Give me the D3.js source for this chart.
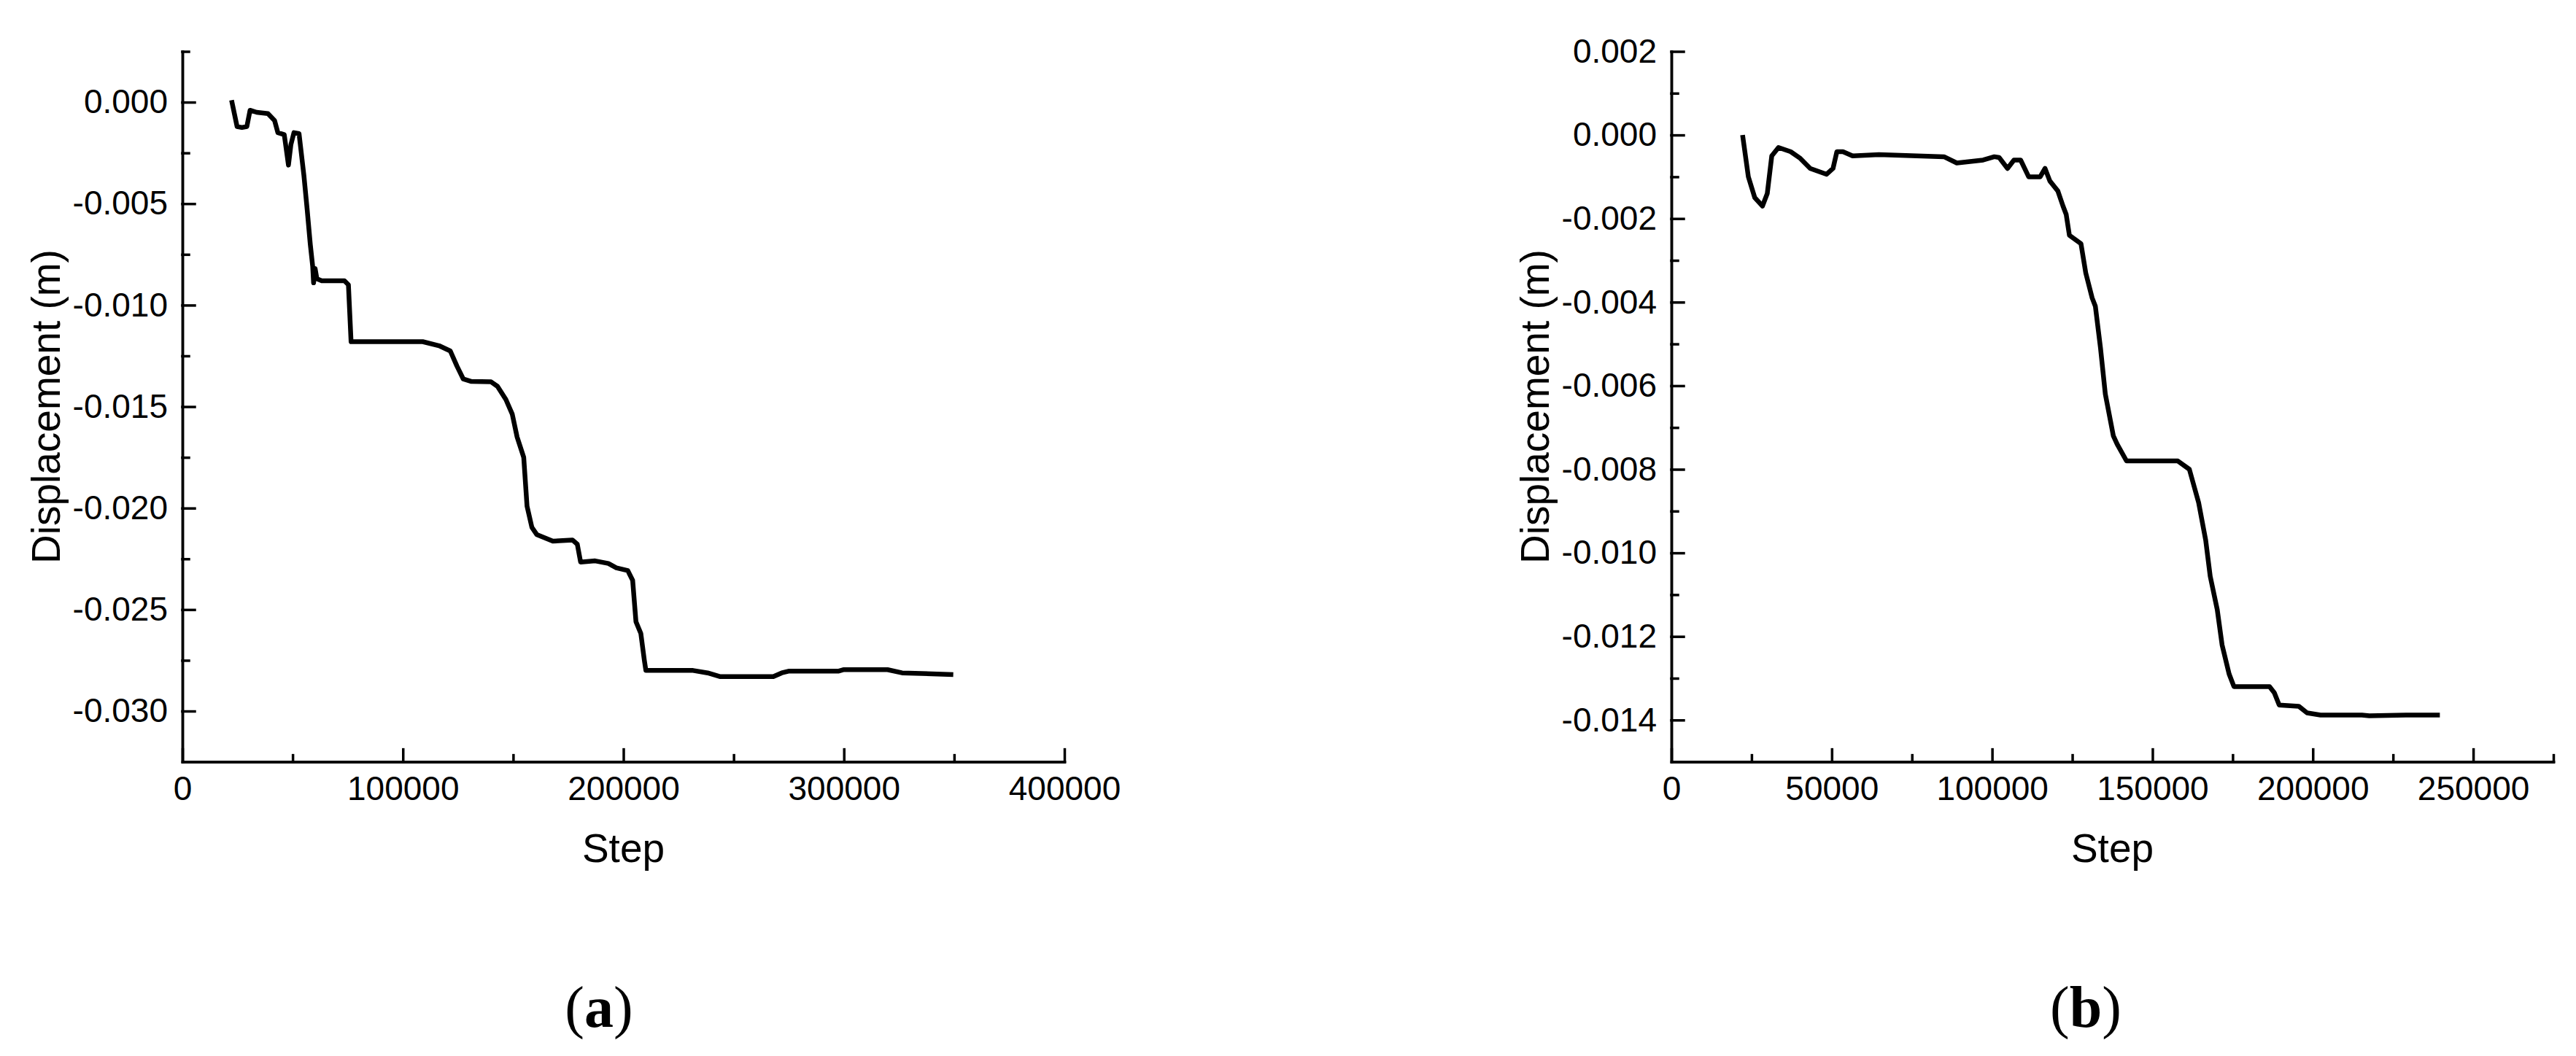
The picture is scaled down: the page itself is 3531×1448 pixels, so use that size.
<!DOCTYPE html>
<html>
<head>
<meta charset="utf-8">
<script src="https://cdn.jsdelivr.net/npm/d3@7"></script>
<style>
  html, body { margin: 0; padding: 0; background: #fff; }
  svg { display: block; }
  .axis path, .axis line { stroke: #000; stroke-width: 3.5; stroke-linecap: square; }
  .axis text { font-family: "Liberation Sans", Arial, sans-serif; font-size: 46px; fill: #000; }
  .title { font-family: "Liberation Sans", Arial, sans-serif; font-size: 55px; fill: #000; }
  .caption { font-family: "Liberation Serif", "Times New Roman", serif; font-size: 80px; fill: #000; }
</style>
</head>
<body>
<script>
// panel (a) data
var stepA = [22300, 24800, 27000, 29250, 30700, 33700, 38800, 41800, 43300, 46200,
  48100, 49200, 50600, 52900, 55100, 56600, 58000, 59100, 59500, 60200,
  61000, 63200, 73500, 75300, 76500, 86800, 109000, 116400, 121500, 124500,
  127400, 131100, 140000, 142900, 146700, 149600, 151800, 154800, 156300, 158500,
  160700, 168000, 176900, 179100, 180600, 187200, 193200, 196800, 202000, 204200,
  205700, 207900, 209500, 210200, 231600, 238200, 243700, 260300, 268000, 271800,
  275200, 297700, 300000, 319800, 326400, 349600];
var dispA = [0.0001, -0.0012, -0.00125, -0.0012, -0.0004, -0.0005, -0.00056, -0.0009, -0.0015, -0.0016,
  -0.0031, -0.0021, -0.0015, -0.00155, -0.0036, -0.0053, -0.0070, -0.0081, -0.0089, -0.0082,
  -0.0087, -0.0088, -0.0088, -0.0090, -0.0118, -0.0118, -0.0118, -0.0120, -0.01226, -0.0130,
  -0.01364, -0.01376, -0.01378, -0.0140, -0.01465, -0.01537, -0.0165, -0.0175, -0.0199, -0.02095,
  -0.0213, -0.02163, -0.02157, -0.02178, -0.02266, -0.0226, -0.02273, -0.02294, -0.02308, -0.02356,
  -0.0256, -0.02617, -0.0275, -0.0280, -0.0280, -0.02812, -0.0283, -0.0283, -0.0283, -0.02812,
  -0.02803, -0.02803, -0.02796, -0.02796, -0.02812, -0.0282];

// panel (b) data
var stepB = [22200, 24000, 26000, 28400, 29900, 31300, 33400, 37200, 40200, 43300,
  48400, 50400, 51600, 53500, 56500, 64700, 85000, 89000, 97200, 100700,
  102200, 104800, 106800, 108900, 111400, 115000, 116500, 118000, 120500, 122100,
  123100, 124100, 127700, 129200, 131200, 132200, 133800, 135300, 137800, 139000,
  141900, 157900, 161500, 164400, 166600, 168000, 170200, 171700, 173900, 175400,
  186500, 188000, 189500, 195600, 198200, 202400, 215300, 217600, 229000, 239600];
var dispB = [0.0000, -0.0010, -0.0015, -0.0017, -0.0014, -0.0005, -0.0003, -0.0004, -0.00056, -0.0008,
  -0.00094, -0.0008, -0.0004, -0.0004, -0.0005, -0.00047, -0.00052, -0.00067, -0.0006, -0.00052,
  -0.00054, -0.0008, -0.0006, -0.0006, -0.0010, -0.0010, -0.0008, -0.0011, -0.00134, -0.0017,
  -0.0019, -0.0024, -0.0026, -0.0033, -0.0039, -0.0041, -0.0051, -0.0062, -0.0072, -0.0074,
  -0.0078, -0.0078, -0.0080, -0.0088, -0.0097, -0.01056, -0.01136, -0.0122, -0.0129, -0.0132,
  -0.0132, -0.01335, -0.01364, -0.01367, -0.01383, -0.01388, -0.01388, -0.0139, -0.01388, -0.01388];

// axes
var xDomainA = [0, 400000], yDomainA = [-0.0325, 0.0025];
var xTicksA = [0, 100000, 200000, 300000, 400000];
var xMinorA = [50000, 150000, 250000, 350000];
var yTicksA = [0, -0.005, -0.010, -0.015, -0.020, -0.025, -0.030];
var yMinorA = [0.0025, -0.0025, -0.0075, -0.0125, -0.0175, -0.0225, -0.0275];

var xDomainB = [0, 275000], yDomainB = [-0.015, 0.002];
var xTicksB = [0, 50000, 100000, 150000, 200000, 250000];
var xMinorB = [25000, 75000, 125000, 175000, 225000, 275000];
var yTicksB = [0.002, 0, -0.002, -0.004, -0.006, -0.008, -0.010, -0.012, -0.014];
var yMinorB = [0.001, -0.001, -0.003, -0.005, -0.007, -0.009, -0.011, -0.013];

var svg = d3.select('body').append('svg')
  .attr('width', 3531)
  .attr('height', 1448);

var plotTop = 70.5, plotBottom = 1044.6;

function panel(o) {
  var x = d3.scaleLinear().domain(o.xDomain).range([o.left, o.left + 1209]);
  var y = d3.scaleLinear().domain(o.yDomain).range([plotBottom, plotTop]);
  var g = svg.append('g');

  // minor ticks first (no labels)
  g.append('g').attr('class', 'axis')
    .attr('transform', 'translate(0,' + plotBottom + ')')
    .call(d3.axisBottom(x).tickValues(o.xMinor).tickFormat('').tickSizeInner(-9).tickSizeOuter(0));
  g.append('g').attr('class', 'axis')
    .attr('transform', 'translate(' + o.left + ',0)')
    .call(d3.axisLeft(y).tickValues(o.yMinor).tickFormat('').tickSizeInner(-9).tickSizeOuter(0));

  g.append('g').attr('class', 'axis')
    .attr('transform', 'translate(0,' + plotBottom + ')')
    .call(d3.axisBottom(x).tickValues(o.xTicks).tickFormat(d3.format('d'))
      .tickSizeInner(-17).tickSizeOuter(0).tickPadding(20));
  g.append('g').attr('class', 'axis')
    .attr('transform', 'translate(' + o.left + ',0)')
    .call(d3.axisLeft(y).tickValues(o.yTicks).tickFormat(function(d) { return d3.format('.3f')(d).replace('\u2212', '-'); })
      .tickSizeInner(-17).tickSizeOuter(0).tickPadding(20));

  var line = d3.line()
    .x(function(d) { return x(d[0]); })
    .y(function(d) { return y(d[1]); });
  g.append('path')
    .datum(d3.zip(o.steps, o.disp))
    .attr('fill', 'none')
    .attr('stroke', '#000')
    .attr('stroke-width', 6.5)
    .attr('stroke-linejoin', 'round')
    .attr('d', line);

  g.append('text').attr('class', 'title')
    .attr('x', o.left + 604.5).attr('y', 1182)
    .attr('text-anchor', 'middle')
    .text('Step');
  g.append('text').attr('class', 'title')
    .attr('transform', 'translate(' + (o.left - 168) + ',' + (plotTop + plotBottom) / 2 + ') rotate(-90)')
    .attr('text-anchor', 'middle')
    .text('Displacement (m)');

  var cap = g.append('text').attr('class', 'caption')
    .attr('x', o.capX).attr('y', 1408)
    .attr('text-anchor', 'middle');
  cap.append('tspan').text('(');
  cap.append('tspan').attr('font-weight', 'bold').text(o.letter);
  cap.append('tspan').text(')');
}

panel({ left: 250, xDomain: xDomainA, yDomain: yDomainA, xTicks: xTicksA, xMinor: xMinorA,
  yTicks: yTicksA, yMinor: yMinorA, steps: stepA, disp: dispA, capX: 821, letter: 'a' });
panel({ left: 2291, xDomain: xDomainB, yDomain: yDomainB, xTicks: xTicksB, xMinor: xMinorB,
  yTicks: yTicksB, yMinor: yMinorB, steps: stepB, disp: dispB, capX: 2859, letter: 'b' });
</script>
</body>
</html>
